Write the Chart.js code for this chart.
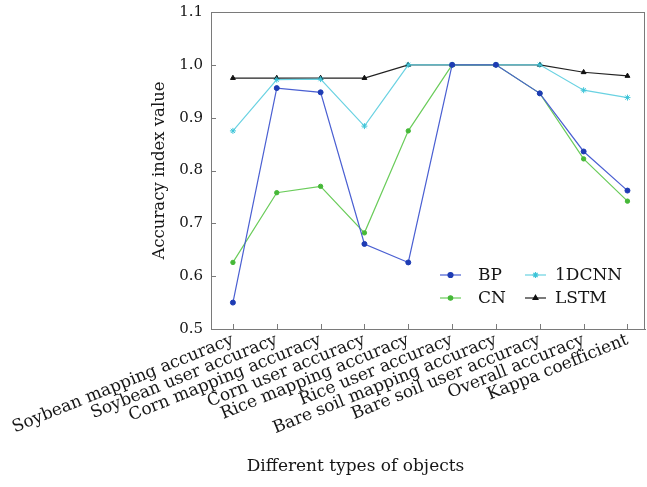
<!DOCTYPE html>
<html>
<head>
<meta charset="utf-8">
<script src="https://cdn.jsdelivr.net/npm/chart.js@4.4.0/dist/chart.umd.min.js"></script>
<style>
  html, body { margin: 0; padding: 0; background: #fff; }
  #wrap { width: 647px; height: 487px; }
</style>
</head>
<body>
<div id="wrap"><canvas id="accChart" width="647" height="487"></canvas></div>
<script>
// --- Data ---
const categories = [
  'Soybean mapping accuracy', 'Soybean user accuracy', 'Corn mapping accuracy',
  'Corn user accuracy', 'Rice mapping accuracy', 'Rice user accuracy',
  'Bare soil mapping accuracy', 'Bare soil user accuracy', 'Overall accuracy',
  'Kappa coefficient'
];
const bpValues    = [0.550, 0.956, 0.948, 0.661, 0.626, 1.000, 1.000, 0.946, 0.836, 0.762];
const cnValues    = [0.626, 0.758, 0.770, 0.682, 0.875, 1.000, 1.000, 0.946, 0.822, 0.742];
const cnn1dValues = [0.875, 0.972, 0.973, 0.884, 1.000, 1.000, 1.000, 1.000, 0.952, 0.938];
const lstmValues  = [0.975, 0.975, 0.975, 0.975, 1.000, 1.000, 1.000, 1.000, 0.986, 0.979];
const yTickValues = [0.5, 0.6, 0.7, 0.8, 0.9, 1.0, 1.1];

const serif = 'DejaVu Serif';
const textColor = '#161616';
const axisColor = '#7a7a7a';

// categories sit at x = 1..10 on a linear axis
const toPoints = values => values.map((v, i) => ({ x: i + 1, y: v }));

function series(label, values, line, fill, style, radius) {
  return {
    label: label,
    data: toPoints(values),
    borderColor: line,
    backgroundColor: fill,
    pointBackgroundColor: fill,
    pointBorderColor: fill,
    borderWidth: 1.2,
    pointStyle: style,
    pointRadius: radius,
    pointBorderWidth: 1,
    tension: 0
  };
}

// --- Frame + inward tick marks ---
const framePlugin = {
  id: 'frame',
  beforeDatasetsDraw(chart) {
    const { ctx, chartArea: a, scales } = chart;
    ctx.save();
    ctx.strokeStyle = axisColor;
    ctx.lineWidth = 1;
    ctx.strokeRect(a.left + 0.5, a.top + 0.5, a.right - a.left - 1, a.bottom - a.top);
    ctx.beginPath();
    scales.y.ticks.forEach(t => {
      const py = Math.round(scales.y.getPixelForValue(t.value)) + 0.5;
      ctx.moveTo(a.left, py);
      ctx.lineTo(a.left + 5, py);
    });
    scales.x.ticks.forEach(t => {
      const px = Math.round(scales.x.getPixelForValue(t.value)) + 0.5;
      ctx.moveTo(px, a.bottom);
      ctx.lineTo(px, a.bottom - 5);
    });
    ctx.stroke();
    ctx.restore();
  }
};

// --- Two-column legend inside the plot ---
const legendPlugin = {
  id: 'innerLegend',
  afterDraw(chart) {
    const { ctx, chartArea: a } = chart;
    const sets = chart.data.datasets;
    // [line start, text start] per column
    const cols = [[a.right - 205, a.right - 167], [a.right - 120, a.right - 90]];
    const rows = [a.bottom - 54, a.bottom - 31];
    const order = [[0, 0, 0], [2, 1, 0], [1, 0, 1], [3, 1, 1]];
    ctx.save();
    ctx.font = '17px "' + serif + '"';
    ctx.textBaseline = 'middle';
    order.forEach(([di, c, r]) => {
      const ds = sets[di];
      const [x, tx] = cols[c];
      const y = rows[r];
      ctx.strokeStyle = ds.borderColor;
      ctx.lineWidth = ds.borderWidth;
      ctx.beginPath();
      ctx.moveTo(x, y);
      ctx.lineTo(x + 21, y);
      ctx.stroke();
      ctx.fillStyle = ds.pointBackgroundColor;
      ctx.strokeStyle = ds.pointBorderColor;
      Chart.helpers.drawPoint(ctx, {
        pointStyle: ds.pointStyle, radius: ds.pointRadius, rotation: 0, borderWidth: 1
      }, x + 10.5, y);
      ctx.fillStyle = textColor;
      ctx.fillText(ds.label, tx, y + 1);
    });
    ctx.restore();
  }
};

new Chart(document.getElementById('accChart'), {
  type: 'line',
  data: {
    datasets: [
      series('BP', bpValues, '#4a5fd2', '#1e3cb4', 'circle', 2.5),
      series('CN', cnValues, '#6acc5a', '#46b838', 'circle', 2.2),
      series('1DCNN', cnn1dValues, '#6ad2e2', '#3cc4d8', 'star', 3),
      series('LSTM', lstmValues, '#222222', '#111111', 'triangle', 2.8)
    ]
  },
  options: {
    responsive: false,
    animation: false,
    devicePixelRatio: 1,
    layout: { autoPadding: false, padding: { left: 66, right: 2, top: 12, bottom: 0 } },
    plugins: {
      legend: { display: false },
      tooltip: { enabled: false },
      title: {
        display: true,
        position: 'bottom',
        text: 'Different types of objects',
        color: textColor,
        font: { family: serif, size: 17, weight: 'normal', lineHeight: 1.2 },
        padding: { top: 0, bottom: 10 }
      }
    },
    scales: {
      x: {
        type: 'linear',
        min: 0.5,
        max: 10.4,
        grid: { display: false, drawTicks: false },
        border: { display: true, color: axisColor },
        afterBuildTicks: scale => { scale.ticks = categories.map((c, i) => ({ value: i + 1 })); },
        afterFit: scale => {
          scale.height = 127.6;
          scale.paddingLeft = 0;
          scale.paddingRight = 0;
        },
        ticks: {
          autoSkip: false,
          minRotation: 22,
          maxRotation: 22,
          padding: 1,
          color: textColor,
          font: { family: serif, size: 17 },
          callback: v => categories[v - 1]
        }
      },
      y: {
        min: 0.5,
        max: 1.1,
        grid: { display: false, drawTicks: false },
        border: { display: true, color: axisColor },
        afterBuildTicks: scale => { scale.ticks = yTickValues.map(v => ({ value: v })); },
        afterFit: scale => {
          scale.width = 145;
          scale.paddingTop = 0;
          scale.paddingBottom = 0;
        },
        ticks: {
          padding: 8,
          color: textColor,
          font: { family: serif, size: 15 },
          callback: v => Number(v).toFixed(1)
        },
        title: {
          display: true,
          text: 'Accuracy index value',
          color: textColor,
          font: { family: serif, size: 16.5, lineHeight: 1.2 },
          padding: { top: 84.1, bottom: 0 }
        }
      }
    }
  },
  plugins: [framePlugin, legendPlugin]
});
</script>
</body>
</html>
